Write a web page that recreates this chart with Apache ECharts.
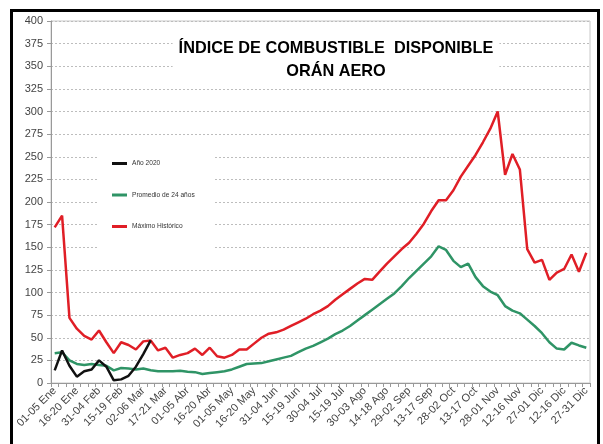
<!DOCTYPE html>
<html><head><meta charset="utf-8">
<script src="https://cdn.jsdelivr.net/npm/echarts@6/dist/echarts.min.js"></script>
<style>html,body{margin:0;padding:0;background:#fff}#c{width:603px;height:444px}</style>
</head><body><div id="c"></div>
<script>
const categories = [
 '01-05 Ene','06-10 Ene','11-15 Ene','16-20 Ene','21-25 Ene','26-30 Ene',
 '31-04 Feb','05-09 Feb','10-14 Feb','15-19 Feb','20-24 Feb','25-01 Mar',
 '02-06 Mar','07-11 Mar','12-16 Mar','17-21 Mar','22-26 Mar','27-31 Mar',
 '01-05 Abr','06-10 Abr','11-15 Abr','16-20 Abr','21-25 Abr','26-30 Abr',
 '01-05 May','06-10 May','11-15 May','16-20 May','21-25 May','26-30 May',
 '31-04 Jun','05-09 Jun','10-14 Jun','15-19 Jun','20-24 Jun','25-29 Jun',
 '30-04 Jul','05-09 Jul','10-14 Jul','15-19 Jul','20-24 Jul','25-29 Jul',
 '30-03 Ago','04-08 Ago','09-13 Ago','14-18 Ago','19-23 Ago','24-28 Ago',
 '29-02 Sep','03-07 Sep','08-12 Sep','13-17 Sep','18-22 Sep','23-27 Sep',
 '28-02 Oct','03-07 Oct','08-12 Oct','13-17 Oct','18-22 Oct','23-27 Oct',
 '28-01 Nov','02-06 Nov','07-11 Nov','12-16 Nov','17-21 Nov','22-26 Nov',
 '27-01 Dic','02-06 Dic','07-11 Dic','12-16 Dic','17-21 Dic','22-26 Dic',
 '27-31 Dic'
];
const seriesNames = ['Año 2020', 'Promedio de 24 años', 'Máximo Histórico'];
const anio2020 = [14,36,19,7,13,15,25,18,3,4,8,18,32,47];
const promedio24 = [
 33,34,25,21,20,21,20,19,14,16.5,
 16,15,16,14,13,13,13,13.5,12.5,12,
 10,11,12,13,15,18,21,21.5,22,24,
 26,28,30,34,38,41,45,49,54,58,
 63,69,75,81,87,93,99,107,116,124,
 132,140,151,147,135,128,132,117,107,101,
 97,85,80,77,70,63,55,45,38,37,
 44.5,41.5,39
];
const maximoHistorico = [
 172,185,72,60,52,48,58,45,33,45,
 42,37,46,47,36,39,28,31,33,38,
 31,39,29.5,28,31,37,37,43.5,50,54.5,
 56,59,63,67,71,76,80,85,92,98,
 104,110,115,114,123,132,140,148,155,165,
 176,190,202,202,213,228,240,252,266,281,
 300,230,253,236,148,133,136,114,122,126,
 142,123,144
];
const yMin = 0, yMax = 400, yStep = 25;
const titleText = 'ÍNDICE DE COMBUSTIBLE  DISPONIBLE\nORÁN AERO';

const chart = echarts.init(document.getElementById('c'));
const baseFont = 'Liberation Sans, Arial, sans-serif';
chart.setOption({
  animation: false,
  backgroundColor: '#fff',
  title: {
    text: titleText,
    left: 330, top: 35, textAlign: 'center',
    backgroundColor: '#fff', padding: [2, 6],
    textStyle: { fontFamily: 'Liberation Sans Narrow, Arial Narrow, Liberation Sans, sans-serif', fontSize: 16.3, fontWeight: 'bold', color: '#000', lineHeight: 23, align: 'center' }
  },
  legend: {
    orient: 'vertical', left: 97, top: 143,
    padding: [17, 20, 18, 15], itemGap: 24.5,
    backgroundColor: '#fff',
    icon: 'rect', itemWidth: 15, itemHeight: 3,
    textStyle: { fontFamily: baseFont, fontSize: 6.6, color: '#333' },
    data: seriesNames
  },
  grid: { left: 51, right: 13, top: 21, bottom: 61, show: true, borderColor: '#c8c8c8', borderWidth: 1 },
  xAxis: {
    type: 'category', boundaryGap: true, data: categories,
    axisLine: { lineStyle: { color: '#999', width: 1 } },
    axisTick: { show: true, interval: 0, length: 4, lineStyle: { color: '#999' } },
    axisLabel: { interval: 2, rotate: 45, fontFamily: baseFont, fontSize: 11, color: '#444', margin: 6 },
    splitLine: { show: false }
  },
  yAxis: {
    type: 'value', min: yMin, max: yMax, interval: yStep,
    axisLine: { show: true, lineStyle: { color: '#999', width: 1 } },
    axisTick: { show: true, length: 4, lineStyle: { color: '#999' } },
    axisLabel: { fontFamily: baseFont, fontSize: 11, color: '#444', margin: 8 },
    splitLine: { show: true, lineStyle: { type: [2, 2], color: '#bdbdbd', width: 1 } }
  },
  series: [
    { name: seriesNames[2], type: 'line', data: maximoHistorico, symbol: 'none', lineStyle: { color: '#e01e26', width: 2.5 }, itemStyle: { color: '#e01e26' } },
    { name: seriesNames[1], type: 'line', data: promedio24, symbol: 'none', lineStyle: { color: '#2f9466', width: 2.5 }, itemStyle: { color: '#2f9466' } },
    { name: seriesNames[0], type: 'line', data: anio2020, symbol: 'none', lineStyle: { color: '#111', width: 2.5 }, itemStyle: { color: '#111' } }
  ],
  graphic: [{
    type: 'rect', silent: true, z: 100,
    shape: { x: 11.5, y: 10.5, width: 587, height: 470 },
    style: { fill: 'none', stroke: '#000', lineWidth: 3 }
  }]
});
</script></body></html>
